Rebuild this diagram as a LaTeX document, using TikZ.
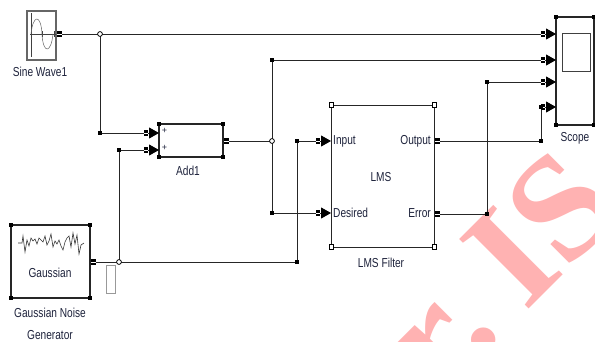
\documentclass[tikz,border=0pt]{standalone}
\usepackage{fontspec}
\setmainfont{Liberation Sans}
\newfontfamily\wmfont{Liberation Serif}
\usetikzlibrary{arrows.meta}
\definecolor{lbl}{RGB}{30,35,60}
\definecolor{wm}{RGB}{255,178,178}
\newcommand\lb[1]{\scalebox{0.78}[1]{#1}}
\begin{document}
\begin{tikzpicture}[x=1pt,y=-1pt,
  blk/.style={draw=black!85,line width=1.1pt,fill=white,inner sep=0pt},
  wire/.style={draw=black!85,line width=1pt},
  arr/.style={-{Triangle[length=10pt,width=11pt,fill=black,color=black]}},
  lab/.style={text=lbl,font=\fontsize{13}{13}\selectfont,inner sep=0pt},
  pm/.pic={\fill[black] (-2.2,-2.7) rectangle (2.2,2.7); \draw[white,line width=0.7pt] (-2.2,0)--(2.2,0);},
  hb/.pic={\fill[black] (-1.9,-1.9) rectangle (1.9,1.9);},
  ho/.pic={\draw[black,line width=0.8pt,fill=white] (-2.1,-2.5) rectangle (2.1,2.5);},
  brp/.pic={\draw[black,line width=0.8pt,fill=white] (0,0) circle (2.4);}
]
\useasboundingbox (0,0) rectangle (595,341);
\fill[white] (0,0) rectangle (595,341);

% watermark
\node[text=wm,rotate=45,anchor=base west,inner sep=0pt,font=\wmfont\bfseries\fontsize{150}{150}\selectfont] (wmark) at (440,398) {r.\kern0.2em IS};

% ---------- blocks ----------
\node[blk,draw=black!60,line width=1.6pt,minimum width=29pt,minimum height=49pt] (sine) at (41.5,35.5) {};
\draw[black!75,line width=0.6pt] (31,13) -- (31,57) (30,34) -- (56,34) (42,31) -- (42,37) (54,31) -- (54,37);
\draw[black!60,line width=0.5pt] (31,34) .. controls (33,14) and (41,14) .. (42,34) .. controls (43,54) and (51,54) .. (53,34);
\node[lab,anchor=center] (sinelab) at (40,72) {\lb{Sine Wave1}};

\node[blk,minimum width=64pt,minimum height=33pt] (add) at (191,140.5) {};
\node[lab,font=\fontsize{9}{9}\selectfont] (plus1) at (164.5,131) {+};
\node[lab,font=\fontsize{9}{9}\selectfont] (plus2) at (164.5,148) {+};
\node[lab] (addlab) at (188,171) {\lb{Add1}};

\node[blk,minimum width=79pt,minimum height=73pt] (gauss) at (50.5,261.5) {};
\draw[black!80,line width=0.6pt] (18,243) -- (22,243) -- (23,236) -- (25,252) -- (27,240) -- (29,246) -- (31,238) -- (33,241) -- (35,239) -- (37,244) -- (39,238) -- (41,240) -- (43,242) -- (45,236) -- (47,245) -- (49,241) -- (51,234) -- (53,247) -- (55,241) -- (57,244) -- (59,240) -- (61,246) -- (63,250) -- (65,242) -- (67,238) -- (69,236) -- (71,247) -- (73,233) -- (75,244) -- (77,235) -- (79,254) -- (81,245) -- (84,243);
\node[lab] (gausstxt) at (50,273) {\lb{Gaussian}};
\node[lab] (gausslab1) at (50,313) {\lb{Gaussian Noise}};
\node[lab] (gausslab2) at (50,335) {\lb{Generator}};
\node[draw=black!40,line width=1pt,minimum width=9pt,minimum height=28pt,inner sep=0pt] (disp) at (110.5,279) {};

\node[blk,line width=1pt,minimum width=103pt,minimum height=142pt] (lms) at (382.5,176) {};
\node[lab,anchor=west] (lin) at (333,141) {\lb{Input}};
\node[lab,anchor=west] (ldes) at (333,213) {\lb{Desired}};
\node[lab,anchor=east] (lout) at (431,141) {\lb{Output}};
\node[lab,anchor=east] (lerr) at (431,213) {\lb{Error}};
\node[lab] (lmstxt) at (381,177) {\lb{LMS}};
\node[lab] (lmslab) at (381,263) {\lb{LMS Filter}};

\node[blk,minimum width=38pt,minimum height=108pt] (scope) at (575,71) {};
\node[draw=black!75,line width=1pt,minimum width=28pt,minimum height=38pt,inner sep=0pt] (screen) at (576,52) {};
\node[lab] (scopelab) at (575,138) {\lb{Scope}};

% ---------- ports ----------
\coordinate (sineOut) at (62,34);
\coordinate (br1) at (100,34);
\coordinate (addIn1) at (159,133);
\coordinate (addIn2) at (159,150);
\coordinate (addOut) at (229,141);
\coordinate (br3) at (272,141);
\coordinate (gaussOut) at (96,262);
\coordinate (br2) at (119,262);
\coordinate (gb) at (297,141);
\coordinate (lmsIn) at (331,141);
\coordinate (lmsDes) at (331,213);
\coordinate (lmsOut) at (440,141);
\coordinate (lmsErr) at (440,214);
\coordinate (ob) at (541,107);
\coordinate (eb) at (487,82);
\coordinate (sc1) at (556,34);
\coordinate (sc2) at (556,60);
\coordinate (sc3) at (556,82);
\coordinate (sc4) at (556,107);

% ---------- wires ----------
\draw[wire,arr] (sineOut) -- (sc1);
\draw[wire,arr] (br1) |- (addIn1);
\draw[wire] (addOut) -- (br3);
\draw[wire,arr] (br3) |- (sc2);
\draw[wire,arr] (br3) |- (lmsDes);
\draw[wire] (gaussOut) -| (gb);
\draw[wire,arr] (gb) -- (lmsIn);
\draw[wire,arr] (br2) |- (addIn2);
\draw[wire] (lmsOut) -| (ob);
\draw[wire,arr] (ob) -- (sc4);
\draw[wire] (lmsErr) -| (eb);
\draw[wire,arr] (eb) -- (sc3);

% ---------- port marks ----------
\foreach \p in {(59.5,34),(93.5,262),(226.5,141),(437.5,141),(437.5,214),
  (146,133),(146,150),(318,141),(318,213),(543,34),(543,60),(543,82),(543,107)}
  \pic at \p {pm};

% ---------- handles ----------
\foreach \p in {(159,124),(223,124),(159,157),(223,157),
  (11,225),(90,225),(11,298),(90,298),
  (556,17),(594,17),(556,125),(594,125),
  (100,133),(119,150),(272,60),(272,213),(297,141),(297,262),
  (487,214),(487,82),(541,141),(541,107)}
  \pic at \p {hb};
\foreach \p in {(331,105),(434,105),(331,247),(434,247)}
  \pic at \p {ho};
\foreach \p in {(100,34),(119,262),(272,141)}
  \pic at \p {brp};
\end{tikzpicture}
\end{document}
